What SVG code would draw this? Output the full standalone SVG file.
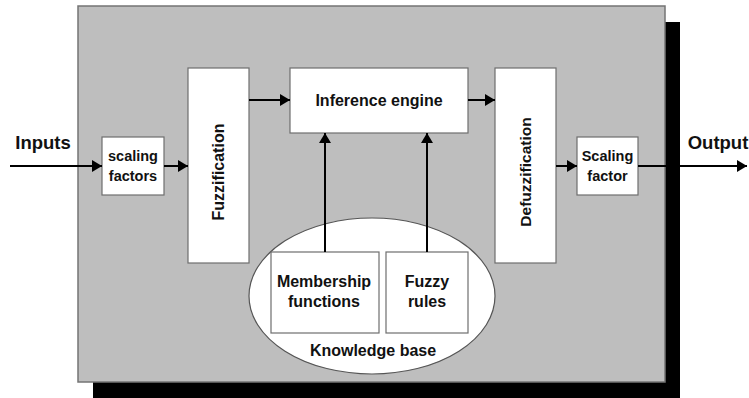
<svg xmlns="http://www.w3.org/2000/svg" width="749" height="398" viewBox="0 0 749 398">
  <style>
    .lbl { font-family: "Liberation Sans", Arial, sans-serif; font-weight: bold; fill: #111; text-anchor: middle; }
    .box { fill: #ffffff; stroke: #6e6e6e; stroke-width: 1.2; }
    .wire { stroke: #000; stroke-width: 2; fill: none; }
  </style>
  <defs>
    <marker id="arrow" viewBox="0 0 10 12" refX="10" refY="6" markerWidth="10" markerHeight="12" markerUnits="userSpaceOnUse" orient="auto">
      <path d="M0,0 L10,6 L0,12 Z" fill="#000"/>
    </marker>
  </defs>

  <rect width="749" height="398" fill="#ffffff"/>

  <!-- controller frame with drop shadow -->
  <g id="frame">
    <rect x="93" y="22" width="587" height="380" fill="#000"/>
    <rect x="78" y="6" width="587" height="376" fill="#bebebe" stroke="#747474" stroke-width="1.5"/>
  </g>

  <g id="inputs-label">
    <text class="lbl" x="43" y="149" font-size="18.5">Inputs</text>
  </g>
  <g id="output-label">
    <text class="lbl" x="718" y="149" font-size="18.5">Output</text>
  </g>

  <g id="scaling-factors">
    <rect class="box" x="102" y="137" width="62" height="58"/>
    <text class="lbl" x="133" y="161" font-size="14.5">scaling</text>
    <text class="lbl" x="133" y="181" font-size="14.5">factors</text>
  </g>

  <g id="fuzzification">
    <rect class="box" x="188" y="68" width="61" height="195"/>
    <text class="lbl" font-size="16" transform="translate(224,172) rotate(-90)">Fuzzification</text>
  </g>

  <g id="inference-engine">
    <rect class="box" x="290" y="68" width="178" height="65"/>
    <text class="lbl" x="379" y="106" font-size="16">Inference engine</text>
  </g>

  <g id="defuzzification">
    <rect class="box" x="495" y="68" width="61" height="195"/>
    <text class="lbl" font-size="15.5" transform="translate(531,172) rotate(-90)">Defuzzification</text>
  </g>

  <g id="scaling-factor">
    <rect class="box" x="577" y="137" width="61" height="58"/>
    <text class="lbl" x="607.5" y="161" font-size="14.5">Scaling</text>
    <text class="lbl" x="607.5" y="181" font-size="14.5">factor</text>
  </g>

  <g id="knowledge-base">
    <ellipse cx="372" cy="296" rx="123" ry="78" fill="#ffffff" stroke="#555" stroke-width="1.2"/>
    <text class="lbl" x="373" y="356" font-size="16">Knowledge base</text>
  </g>

  <g id="membership-functions">
    <rect class="box" x="271" y="252" width="108" height="81"/>
    <text class="lbl" x="324" y="287" font-size="16">Membership</text>
    <text class="lbl" x="324" y="307" font-size="16">functions</text>
  </g>

  <g id="fuzzy-rules">
    <rect class="box" x="386" y="252" width="82" height="81"/>
    <text class="lbl" x="427" y="287" font-size="16">Fuzzy</text>
    <text class="lbl" x="427" y="307" font-size="16">rules</text>
  </g>

  <g id="connectors">
    <line class="wire" x1="10" y1="166" x2="102" y2="166" marker-end="url(#arrow)"/>
    <line class="wire" x1="164" y1="166" x2="188" y2="166" marker-end="url(#arrow)"/>
    <line class="wire" x1="249" y1="100" x2="290" y2="100" marker-end="url(#arrow)"/>
    <line class="wire" x1="468" y1="100" x2="495" y2="100" marker-end="url(#arrow)"/>
    <line class="wire" x1="556" y1="166" x2="577" y2="166" marker-end="url(#arrow)"/>
    <line class="wire" x1="638" y1="166" x2="747" y2="166" marker-end="url(#arrow)"/>
    <line class="wire" x1="325" y1="252" x2="325" y2="133" marker-end="url(#arrow)"/>
    <line class="wire" x1="427" y1="252" x2="427" y2="133" marker-end="url(#arrow)"/>
  </g>
</svg>
